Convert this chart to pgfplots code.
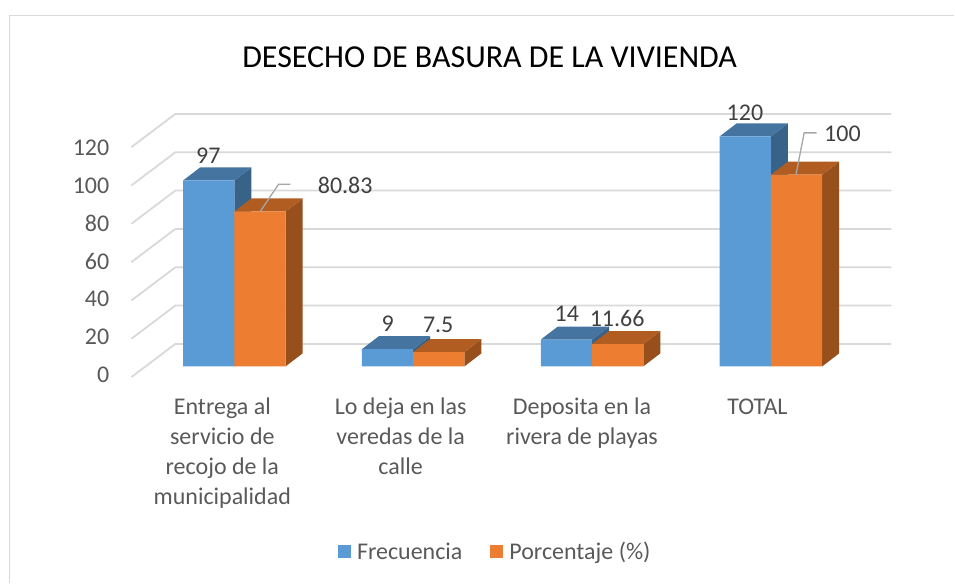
\documentclass[border=0pt]{standalone}
\usepackage{fontspec}
\setmainfont{Carlito}
\usepackage{pgfplots}
\pgfplotsset{compat=1.18}
\definecolor{bl}{HTML}{5B9BD5}
\definecolor{blt}{HTML}{44749F}
\definecolor{bls}{HTML}{396288}
\definecolor{og}{HTML}{ED7D31}
\definecolor{ogt}{HTML}{B15D21}
\definecolor{ogs}{HTML}{974F1C}
\definecolor{grd}{HTML}{D9D9D9}
\definecolor{lead}{HTML}{A6A6A6}
\definecolor{lab}{HTML}{595959}
\definecolor{dat}{HTML}{404040}
\begin{document}
\begin{tikzpicture}
\begin{axis}[
  name=ax, at={(0,0)}, anchor=south west,
  scale only axis, width=955pt, height=583pt,
  xmin=-1.3101, xmax=4.0251, ymin=-112.78, ymax=191.18,
  clip=false,
  axis line style={draw=none},
  major tick length=0pt,
  tick style={draw=none},
  xtick={-0.067,0.93,1.944,2.925},
  xticklabels={{\strut Entrega al\\servicio de\\recojo de la\\municipalidad},{\strut Lo deja en las\\veredas de la\\calle},{\strut Deposita en la\hspace{5pt}\\rivera de playas},{\strut TOTAL}},
  x tick label style={align=center, anchor=north, inner sep=0pt, yshift=189pt, font=\fontsize{24}{30}\selectfont, text=lab},
  ytick={-4.17,15.54,35.25,54.95,74.66,94.37,114.08},
  yticklabels={0,20,40,60,80,100,120},
  y tick label style={anchor=east, inner sep=0pt, xshift=109.5pt, font=\fontsize{24}{28}\selectfont, text=lab},
  title={DESECHO DE BASURA DE LA VIVIENDA},
  every axis title shift=0pt,
  title style={at={(0.5131,0.9022)}, anchor=center, inner sep=0pt, font=\fontsize{32}{36}\selectfont, text=black},
  legend style={at={(0.519,0.0532)}, anchor=center, draw=none, fill=none, inner sep=0pt,
    legend columns=2, font=\fontsize{24}{28}\selectfont, text=lab,
    /tikz/every odd column/.append style={column sep=4pt},
    /tikz/every even column/.append style={column sep=26pt}},
  legend cell align=left,
]
% chart frame: left and top edges only
\addplot[grd, line width=1.5pt, forget plot] coordinates {(-1.257,-112.78) (-1.257,183.2) (4.0251,183.2)};
% walls: gridlines for 0 ... 120
\addplot[grd, line width=1.8pt, forget plot] coordinates {(-0.5754,-5.58) (-0.3296,11.73) (3.674,11.73)};
\addplot[grd, line width=1.8pt, forget plot] coordinates {(-0.5754,14.42) (-0.3296,31.73) (3.674,31.73)};
\addplot[grd, line width=1.8pt, forget plot] coordinates {(-0.5754,34.42) (-0.3296,51.73) (3.674,51.73)};
\addplot[grd, line width=1.8pt, forget plot] coordinates {(-0.5754,54.42) (-0.3296,71.73) (3.674,71.73)};
\addplot[grd, line width=1.8pt, forget plot] coordinates {(-0.5754,74.42) (-0.3296,91.73) (3.674,91.73)};
\addplot[grd, line width=1.8pt, forget plot] coordinates {(-0.5754,94.42) (-0.3296,111.73) (3.674,111.73)};
\addplot[grd, line width=1.8pt, forget plot] coordinates {(-0.5754,114.42) (-0.3296,131.73) (3.674,131.73)};
% Frecuencia: side and top faces
\addplot[fill=bls, draw=none, forget plot] coordinates {(0,0) (0.095,6.78) (0.095,103.78) (0,97)};
\addplot[fill=blt, draw=none, forget plot] coordinates {(-0.2866,97) (0,97) (0.095,103.78) (-0.1916,103.78)};
\addplot[fill=bls, draw=none, forget plot] coordinates {(1,0) (1.095,6.78) (1.095,15.78) (1,9)};
\addplot[fill=blt, draw=none, forget plot] coordinates {(0.7134,9) (1,9) (1.095,15.78) (0.8084,15.78)};
\addplot[fill=bls, draw=none, forget plot] coordinates {(2,0) (2.095,6.78) (2.095,20.78) (2,14)};
\addplot[fill=blt, draw=none, forget plot] coordinates {(1.7134,14) (2,14) (2.095,20.78) (1.8084,20.78)};
\addplot[fill=bls, draw=none, forget plot] coordinates {(3,0) (3.095,6.78) (3.095,126.78) (3,120)};
\addplot[fill=blt, draw=none, forget plot] coordinates {(2.7134,120) (3,120) (3.095,126.78) (2.8084,126.78)};
% Frecuencia: front faces
\addplot[ybar, bar width=51.3pt, bar shift=-25.65pt, fill=bl, draw=none,
  legend image code/.code={\fill[bl] (0pt,-6.5pt) rectangle (13pt,6.5pt);}]
  coordinates {(0,97) (1,9) (2,14) (3,120)};
\addlegendentry{Frecuencia}
% Porcentaje: side and top faces
\addplot[fill=ogs, draw=none, forget plot] coordinates {(0.2866,0) (0.3816,6.78) (0.3816,87.61) (0.2866,80.83)};
\addplot[fill=ogt, draw=none, forget plot] coordinates {(0,80.83) (0.2866,80.83) (0.3816,87.61) (0.095,87.61)};
\addplot[fill=ogs, draw=none, forget plot] coordinates {(1.2866,0) (1.3816,6.78) (1.3816,14.28) (1.2866,7.5)};
\addplot[fill=ogt, draw=none, forget plot] coordinates {(1,7.5) (1.2866,7.5) (1.3816,14.28) (1.095,14.28)};
\addplot[fill=ogs, draw=none, forget plot] coordinates {(2.2866,0) (2.3816,6.78) (2.3816,18.44) (2.2866,11.66)};
\addplot[fill=ogt, draw=none, forget plot] coordinates {(2,11.66) (2.2866,11.66) (2.3816,18.44) (2.095,18.44)};
\addplot[fill=ogs, draw=none, forget plot] coordinates {(3.2866,0) (3.3816,6.78) (3.3816,106.78) (3.2866,100)};
\addplot[fill=ogt, draw=none, forget plot] coordinates {(3,100) (3.2866,100) (3.3816,106.78) (3.095,106.78)};
% Porcentaje: front faces
\addplot[ybar, bar width=51.3pt, bar shift=25.65pt, fill=og, draw=none,
  legend image code/.code={\fill[og] (0pt,-6.5pt) rectangle (13pt,6.5pt);}]
  coordinates {(0,80.83) (1,7.5) (2,11.66) (3,100)};
\addlegendentry{Porcentaje (\%)}
% leader lines
\addplot[lead, line width=1.3pt, forget plot] coordinates {(0.145,80.83) (0.2475,95.05) (0.313,95.05)};
\addplot[lead, line width=1.3pt, forget plot] coordinates {(3.14,99.95) (3.186,121.85) (3.255,121.85)};
% data labels
\begin{scope}[every node/.style={font=\fontsize{24}{28}\selectfont, text=dat, inner sep=0pt}]
\node at (axis cs:-0.145,110.0) {97};
\node at (axis cs:0.620,94.6) {80.83};
\node at (axis cs:0.8575,22.4) {9};
\node at (axis cs:1.140,21.4) {7.5};
\node at (axis cs:1.859,27.6) {14};
\node at (axis cs:2.140,25.2) {11.66};
\node at (axis cs:2.855,132.4) {120};
\node at (axis cs:3.4,121.5) {100};
\end{scope}
\end{axis}
\path[use as bounding box] (ax.south west) rectangle (ax.north east);
\end{tikzpicture}
\end{document}
